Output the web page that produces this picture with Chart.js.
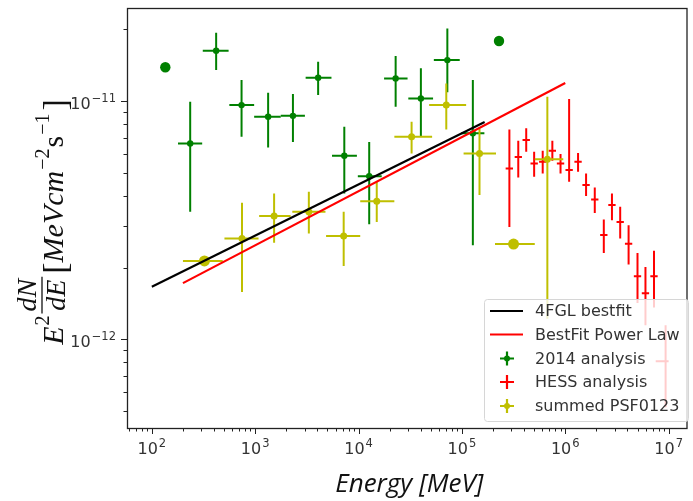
<!DOCTYPE html>
<html>
<head>
<meta charset="utf-8">
<script src="https://cdn.jsdelivr.net/npm/chart.js@4.4.1/dist/chart.umd.min.js"></script>
<style>
html, body { margin: 0; padding: 0; background: #fff; }
#wrap { width: 693px; height: 501px; position: relative; }
</style>
</head>
<body>
<div id="wrap"><canvas id="sed"></canvas></div>
<script>
// fitted power laws (two end points each, straight in log-log)
const fglE = [100, 1.66e5];
const fglF = [1.66e-12, 8.16e-12];
const plawE = [200, 1.0e6];
const plawF = [1.72e-12, 1.19e-11];

// 2014 analysis (green)
const g14E   = [235, 419, 738, 1334, 2318, 4064, 7280, 12680, 22850, 40090, 72300, 127600];
const g14Elo = [179, 311, 562, 977, 1766, 3076, 5537, 9840, 17660, 30300, 53500, 98400];
const g14Ehi = [307, 553, 977, 1766, 3027, 5470, 9640, 16750, 29800, 52600, 95300, 165000];
const g14F   = [6.64e-12, 1.626e-11, 9.62e-12, 8.59e-12, 8.67e-12, 1.253e-11, 5.89e-12, 4.84e-12, 1.245e-11, 1.026e-11, 1.486e-11, 7.32e-12];
const g14Flo = [3.43e-12, 1.349e-11, 7.08e-12, 6.38e-12, 6.74e-12, 1.06e-11, 4.09e-12, 3.04e-12, 9.46e-12, 7.08e-12, 1.09e-11, 2.48e-12];
const g14Fhi = [9.93e-12, 1.936e-11, 1.226e-11, 1.083e-11, 1.07e-11, 1.462e-11, 7.8e-12, 6.74e-12, 1.545e-11, 1.372e-11, 2.018e-11, 1.226e-11];
// 2014 points without error bars
const g14DotE = [135, 228500];
const g14DotF = [1.387e-11, 1.787e-11];

// HESS analysis (red)
const hessE   = [2.88e5, 3.51e5, 4.19e5, 5.0e5, 6.05e5, 7.5e5, 9.0e5, 1.09e6, 1.33e6, 1.59e6, 1.93e6, 2.36e6, 2.83e6, 3.40e6, 4.10e6, 5.0e6, 5.97e6, 7.22e6, 9.35e6];
const hessElo = [2.65e5, 3.24e5, 3.86e5, 4.61e5, 5.58e5, 6.91e5, 8.29e5, 1.005e6, 1.226e6, 1.465e6, 1.779e6, 2.175e6, 2.608e6, 3.134e6, 3.779e6, 4.608e6, 5.502e6, 6.654e6, 7.5e6];
const hessEhi = [3.12e5, 3.81e5, 4.55e5, 5.43e5, 6.56e5, 8.14e5, 9.77e5, 1.183e6, 1.443e6, 1.725e6, 2.094e6, 2.561e6, 3.071e6, 3.689e6, 4.449e6, 5.425e6, 6.477e6, 7.834e6, 1.0e7];
const hessF   = [5.21e-12, 5.83e-12, 6.86e-12, 5.47e-12, 5.56e-12, 6.18e-12, 5.47e-12, 5.13e-12, 5.56e-12, 4.44e-12, 3.86e-12, 2.74e-12, 3.66e-12, 3.11e-12, 2.52e-12, 1.84e-12, 1.56e-12, 1.84e-12, 8.09e-13];
const hessFlo = [2.96e-12, 4.78e-12, 6.12e-12, 4.81e-12, 4.97e-12, 5.61e-12, 4.97e-12, 4.58e-12, 5.05e-12, 3.99e-12, 3.39e-12, 2.30e-12, 3.16e-12, 2.65e-12, 2.06e-12, 1.42e-12, 1.145e-12, 1.36e-12, 5.18e-13];
const hessFhi = [7.60e-12, 6.81e-12, 7.68e-12, 6.12e-12, 6.18e-12, 6.81e-12, 5.99e-12, 1.02e-11, 6.06e-12, 4.97e-12, 4.34e-12, 3.18e-12, 4.09e-12, 3.60e-12, 3.01e-12, 2.30e-12, 2.01e-12, 2.35e-12, 1.145e-12];

// summed PSF0123 (yellow)
const psfE   = [745, 1524, 3304, 7180, 15000, 32600, 70600, 148000, 671000];
const psfElo = [504, 1092, 2286, 4850, 10380, 22200, 48200, 103800, 507000];
const psfEhi = [1077, 2203, 4786, 10380, 22200, 51500, 109900, 213800, 957000];
const psfF   = [2.65e-12, 3.29e-12, 3.43e-12, 2.71e-12, 3.80e-12, 7.08e-12, 9.62e-12, 6.03e-12, 5.70e-12];
const psfFlo = [1.58e-12, 2.54e-12, 2.78e-12, 2.03e-12, 3.11e-12, 6.03e-12, 7.6e-12, 4.03e-12, 1.22e-12];
const psfFhi = [3.74e-12, 4.09e-12, 4.16e-12, 3.43e-12, 4.58e-12, 8.19e-12, 1.186e-11, 7.67e-12, 1.042e-11];
// PSF points with energy bins only
const psfDotE   = [323, 316000];
const psfDotElo = [200, 209000];
const psfDotEhi = [485, 507000];
const psfDotF   = [2.133e-12, 2.51e-12];

const seriesNames = ['4FGL bestfit', 'BestFit Power Law', '2014 analysis', 'HESS analysis', 'summed PSF0123'];
const xDecades = [2, 3, 4, 5, 6, 7];
const yDecades = [-12, -11];

const GREEN = '#008000', RED = '#ff0000', YELLOW = '#bfbf00', BLACK = '#000000';

const pts = (xs, ys) => xs.map((v, i) => ({ x: v, y: ys[i] }));

// error bars, drawn from the same arrays through the chart scales
const errorBars = {
    id: 'errorBars',
    beforeDatasetsDraw(chart) {
        const { ctx, chartArea, scales: { x, y } } = chart;
        ctx.save();
        ctx.beginPath();
        ctx.rect(chartArea.left, chartArea.top, chartArea.width, chartArea.height);
        ctx.clip();
        chart.data.datasets.forEach(ds => {
            if (!ds.errs) return;
            const e = ds.errs;
            ctx.strokeStyle = ds.borderColor;
            ctx.lineWidth = 2;
            ds.data.forEach((p, k) => {
                const px = x.getPixelForValue(p.x), py = y.getPixelForValue(p.y);
                ctx.beginPath();
                if (e.xlo) {
                    ctx.moveTo(x.getPixelForValue(e.xlo[k]), py);
                    ctx.lineTo(x.getPixelForValue(e.xhi[k]), py);
                }
                if (e.ylo) {
                    ctx.moveTo(px, y.getPixelForValue(e.ylo[k]));
                    ctx.lineTo(px, y.getPixelForValue(e.yhi[k]));
                }
                ctx.stroke();
            });
        });
        ctx.restore();
    }
};

function drawPow(ctx, base, exp, x, y, align) {
    // "10" with a raised exponent, matplotlib style
    const big = '16px "DejaVu Sans"', small = '11.5px "DejaVu Sans"';
    ctx.font = big;
    const wb = ctx.measureText(base).width;
    ctx.font = small;
    const we = ctx.measureText(exp).width;
    const w = wb + we + 1;
    const left = align === 'right' ? x - w : x - w / 2;
    ctx.textAlign = 'left';
    ctx.textBaseline = 'alphabetic';
    ctx.font = big;
    ctx.fillText(base, left, y);
    ctx.font = small;
    ctx.fillText(exp, left + wb + 1, y - 7);
}

function drawYTitle(ctx, cx, cy) {
    const it = s => `italic ${s}px "Liberation Serif"`;
    const up = s => `${s}px "Liberation Serif"`;
    const B = 63 - cx;
    const parts = [
        { t: 'E', f: it(30), dy: B },
        { t: '2', f: up(20), dy: B - 14, gap: 1 },
        { frac: true, num: 'dN', den: 'dE', f: it(28), gap: 2 },
        { t: '[', f: up(34), dy: B + 3, gap: 3 },
        { t: 'MeVcm', f: it(30), dy: B },
        { t: '\u22122', f: up(20), dy: B - 14, gap: 1 },
        { t: 's', f: up(30), dy: B, gap: 1 },
        { t: '\u22121', f: up(20), dy: B - 14, gap: 1 },
        { t: ']', f: up(34), dy: B + 3, gap: 3 }
    ];
    let total = 0;
    parts.forEach(p => {
        ctx.font = p.f;
        if (p.frac) {
            p.w = Math.max(ctx.measureText(p.num).width, ctx.measureText(p.den).width) + 4;
        } else {
            p.w = ctx.measureText(p.t).width;
        }
        total += p.w + (p.gap || 0);
    });
    ctx.save();
    ctx.translate(cx, cy);
    ctx.rotate(-Math.PI / 2);
    ctx.fillStyle = '#111';
    ctx.strokeStyle = '#111';
    ctx.textBaseline = 'alphabetic';
    ctx.textAlign = 'left';
    let u = -total / 2;
    parts.forEach(p => {
        u += p.gap || 0;
        ctx.font = p.f;
        if (p.frac) {
            const wn = ctx.measureText(p.num).width, wd = ctx.measureText(p.den).width;
            ctx.fillText(p.num, u + (p.w - wn) / 2, B - 27);
            ctx.fillText(p.den, u + (p.w - wd) / 2, B + 2);
            ctx.lineWidth = 1.3;
            ctx.beginPath();
            ctx.moveTo(u, B - 21);
            ctx.lineTo(u + p.w, B - 21);
            ctx.stroke();
        } else {
            ctx.fillText(p.t, u, p.dy);
        }
        u += p.w;
    });
    ctx.restore();
}

const axesDeco = {
    id: 'axesDeco',
    afterDraw(chart) {
        const { ctx, chartArea: a, scales: { x, y } } = chart;
        ctx.save();
        ctx.strokeStyle = '#222';
        ctx.fillStyle = '#222';
        ctx.lineWidth = 1;
        // minor + major ticks
        ctx.beginPath();
        for (let d = 1; d <= 7; d++) {
            for (let m = 1; m <= 9; m++) {
                const v = m * Math.pow(10, d);
                if (v < x.min || v > x.max) continue;
                const px = Math.round(x.getPixelForValue(v)) + 0.5;
                ctx.moveTo(px, a.bottom);
                ctx.lineTo(px, a.bottom + (m === 1 ? 6 : 3.5));
            }
        }
        for (let d = -14; d <= -10; d++) {
            for (let m = 1; m <= 9; m++) {
                const v = m * Math.pow(10, d);
                if (v < y.min || v > y.max) continue;
                const py = Math.round(y.getPixelForValue(v)) + 0.5;
                ctx.moveTo(a.left, py);
                ctx.lineTo(a.left - (m === 1 ? 6 : 3.5), py);
            }
        }
        ctx.stroke();
        // frame
        ctx.lineWidth = 1.3;
        ctx.strokeRect(a.left + 0.5, a.top + 0.5, a.right - a.left - 1, a.bottom - a.top);
        // tick labels
        ctx.fillStyle = '#333';
        xDecades.forEach(d => drawPow(ctx, '10', String(d), x.getPixelForValue(Math.pow(10, d)), a.bottom + 26, 'center'));
        yDecades.forEach(d => drawPow(ctx, '10', '\u2212' + Math.abs(d), a.left - 11, y.getPixelForValue(Math.pow(10, d)) + 8, 'right'));
        // axis titles
        ctx.fillStyle = '#111';
        ctx.font = 'italic 26px "Open Sans"';
        ctx.textAlign = 'center';
        ctx.textBaseline = 'alphabetic';
        ctx.fillText('Energy [MeV]', (a.left + a.right) / 2 + 2, 492);
        drawYTitle(ctx, 0, (a.top + a.bottom) / 2 + 4);
        ctx.restore();
    }
};

function crossIcon(ctx, cx, cy, color, dot) {
    ctx.strokeStyle = color;
    ctx.fillStyle = color;
    ctx.lineWidth = 2.2;
    ctx.beginPath();
    ctx.moveTo(cx - 7, cy); ctx.lineTo(cx + 7, cy);
    ctx.moveTo(cx, cy - 7); ctx.lineTo(cx, cy + 7);
    ctx.stroke();
    if (dot) {
        ctx.beginPath();
        ctx.arc(cx, cy, dot, 0, Math.PI * 2);
        ctx.fill();
    }
}

const boxLegend = {
    id: 'boxLegend',
    afterDraw(chart) {
        const { ctx } = chart;
        const bx = 484.5, by = 299.5, bw = 204, bh = 122, r = 3;
        ctx.save();
        ctx.beginPath();
        ctx.moveTo(bx + r, by);
        ctx.arcTo(bx + bw, by, bx + bw, by + bh, r);
        ctx.arcTo(bx + bw, by + bh, bx, by + bh, r);
        ctx.arcTo(bx, by + bh, bx, by, r);
        ctx.arcTo(bx, by, bx + bw, by, r);
        ctx.closePath();
        ctx.fillStyle = 'rgba(255,255,255,0.8)';
        ctx.fill();
        ctx.strokeStyle = '#d6d6d6';
        ctx.lineWidth = 1;
        ctx.stroke();
        const rows = [311, 334.5, 358.5, 382, 406];
        const cols = [BLACK, RED, GREEN, RED, YELLOW];
        rows.forEach((ry, i) => {
            if (i < 2) {
                ctx.strokeStyle = cols[i];
                ctx.lineWidth = 2.2;
                ctx.beginPath();
                ctx.moveTo(490, ry); ctx.lineTo(523, ry);
                ctx.stroke();
            } else {
                crossIcon(ctx, 507, ry, cols[i], i === 3 ? 0 : 3);
            }
            ctx.fillStyle = '#333';
            ctx.font = '16px "DejaVu Sans"';
            ctx.textAlign = 'left';
            ctx.textBaseline = 'middle';
            ctx.fillText(seriesNames[i], 535, ry + 1);
        });
        ctx.restore();
    }
};

new Chart(document.getElementById('sed'), {
    type: 'scatter',
    data: {
        datasets: [
            { label: seriesNames[0], data: pts(fglE, fglF), showLine: true, borderColor: BLACK, borderWidth: 2.2, pointRadius: 0, order: 2 },
            { label: seriesNames[1], data: pts(plawE, plawF), showLine: true, borderColor: RED, borderWidth: 2.2, pointRadius: 0, order: 1 },
            { label: seriesNames[2], data: pts(g14E, g14F), borderColor: GREEN, backgroundColor: GREEN, pointRadius: 3.2, pointBorderWidth: 0, order: 3,
              errs: { xlo: g14Elo, xhi: g14Ehi, ylo: g14Flo, yhi: g14Fhi } },
            { label: '2014 extra', data: pts(g14DotE, g14DotF), borderColor: GREEN, backgroundColor: GREEN, pointRadius: 5.2, pointBorderWidth: 0, order: 3 },
            { label: seriesNames[3], data: pts(hessE, hessF), borderColor: RED, backgroundColor: RED, pointRadius: 0, order: 3,
              errs: { xlo: hessElo, xhi: hessEhi, ylo: hessFlo, yhi: hessFhi } },
            { label: seriesNames[4], data: pts(psfE, psfF), borderColor: YELLOW, backgroundColor: YELLOW, pointRadius: 3.5, pointBorderWidth: 0, order: 3,
              errs: { xlo: psfElo, xhi: psfEhi, ylo: psfFlo, yhi: psfFhi } },
            { label: 'PSF extra', data: pts(psfDotE, psfDotF), borderColor: YELLOW, backgroundColor: YELLOW, pointRadius: 5.5, pointBorderWidth: 0, order: 3,
              errs: { xlo: psfDotElo, xhi: psfDotEhi } }
        ]
    },
    options: {
        responsive: true,
        maintainAspectRatio: false,
        animation: false,
        layout: { padding: { top: 8, right: 2, left: 0, bottom: 0 } },
        plugins: { legend: { display: false }, tooltip: { enabled: false } },
        scales: {
            x: {
                type: 'logarithmic', min: 57.5, max: 1.523e7,
                grid: { display: false }, border: { display: false },
                ticks: { display: false },
                afterFit: s => { s.height = 73; }
            },
            y: {
                type: 'logarithmic', min: 4.24e-13, max: 2.459e-11,
                grid: { display: false }, border: { display: false },
                ticks: { display: false },
                afterFit: s => { s.width = 127; }
            }
        }
    },
    plugins: [errorBars, axesDeco, boxLegend]
});
</script>
</body>
</html>
